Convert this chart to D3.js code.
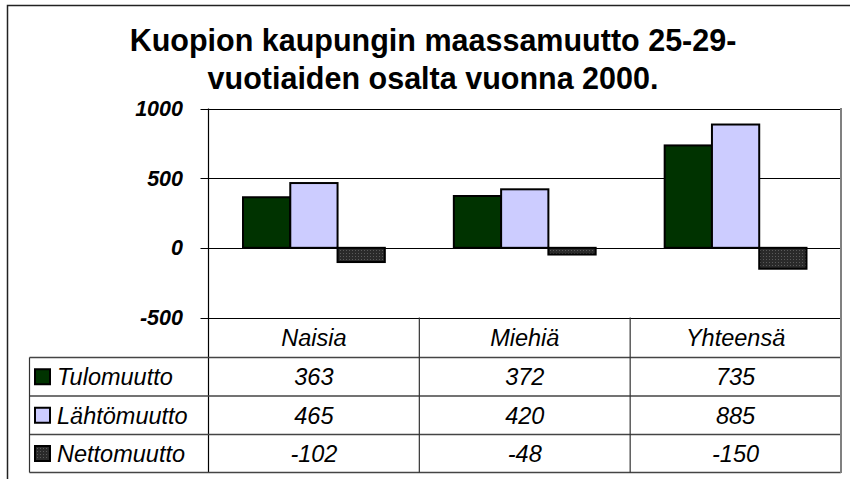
<!DOCTYPE html>
<html>
<head>
<meta charset="utf-8">
<script src="https://cdn.jsdelivr.net/npm/d3@7"></script>
<style>
  body { margin: 0; background: #fff; }
  svg text { font-family: Arial, "Liberation Sans", sans-serif; }
</style>
</head>
<body>
<div id="container"></div>
<script>
const categories = ["Naisia", "Miehiä", "Yhteensä"];
const seriesNames = ["Tulomuutto", "Lähtömuutto", "Nettomuutto"];
const tulomuutto = [363, 372, 735];
const lahtomuutto = [465, 420, 885];
const nettomuutto = [-102, -48, -150];
const yTicks = [-500, 0, 500, 1000];
const titleLines = ["Kuopion kaupungin maassamuutto 25-29-", "vuotiaiden osalta vuonna 2000."];

const WIDTH = 850, HEIGHT = 479;
const values = [tulomuutto, lahtomuutto, nettomuutto];
const colors = ["#003300", "#ccccff", "url(#netPattern)"];

// plot box
const plotLeft = 208.5, plotRight = 841, plotTop = 108.5, plotBottom = 317.5;
const rowLines = [357.5, 396, 434.5, 472.5];
const tableLeft = 29.5;

let svg = d3.select("#container")
  .append("svg")
  .attr("width", WIDTH)
  .attr("height", HEIGHT);

let defs = svg.append("defs");
let pat = defs.append("pattern")
  .attr("id", "netPattern")
  .attr("width", 3).attr("height", 3)
  .attr("patternUnits", "userSpaceOnUse");
pat.append("rect").attr("width", 3).attr("height", 3).attr("fill", "#2a2a2a");
pat.append("rect").attr("x", 1).attr("y", 1).attr("width", 1).attr("height", 1).attr("fill", "#5a5a5a");

// outer chart border
svg.append("rect")
  .attr("x", 7.5).attr("y", 5.5)
  .attr("width", 900).attr("height", 600)
  .attr("fill", "none")
  .attr("stroke", "#222")
  .attr("stroke-width", 1.5);

// title
svg.append("g").selectAll("text")
  .data(titleLines)
  .enter()
  .append("text")
  .attr("x", 433)
  .attr("y", (d, i) => 50.5 + i * 38)
  .attr("text-anchor", "middle")
  .style("font-size", "30.5px")
  .style("font-weight", "bold")
  .text(d => d);

const y = d3.scaleLinear().domain([-500, 1000]).range([plotBottom, plotTop]);
const x = d3.scaleBand().domain(categories).range([plotLeft, plotRight]).padding(0);
const xs = d3.scaleBand().domain(seriesNames).range([0, x.bandwidth()])
  .paddingInner(0).paddingOuter(0.73);

// gridlines
svg.append("g").selectAll("line")
  .data(yTicks)
  .enter()
  .append("line")
  .attr("x1", plotLeft - 8).attr("x2", plotRight)
  .attr("y1", d => Math.round(y(d)) + 0.5)
  .attr("y2", d => Math.round(y(d)) + 0.5)
  .attr("stroke", "#000")
  .attr("stroke-width", 1);

// y labels
svg.append("g").selectAll("text")
  .data(yTicks)
  .enter()
  .append("text")
  .attr("x", 183)
  .attr("y", d => y(d) + 7.5)
  .attr("text-anchor", "end")
  .style("font-size", "21.5px")
  .style("font-weight", "bold")
  .style("font-style", "italic")
  .text(d => d);

// bars
let groups = svg.append("g").selectAll("g")
  .data(seriesNames)
  .enter()
  .append("g");

groups.selectAll("rect")
  .data((s, si) => categories.map((c, ci) => ({ s: s, si: si, c: c, v: values[si][ci] })))
  .enter()
  .append("rect")
  .attr("x", d => x(d.c) + xs(d.s))
  .attr("width", xs.bandwidth())
  .attr("y", d => y(Math.max(0, d.v)))
  .attr("height", d => Math.abs(y(d.v) - y(0)))
  .attr("fill", d => colors[d.si])
  .attr("stroke", "#000")
  .attr("stroke-width", 2);

// axis line
svg.append("line")
  .attr("x1", plotLeft).attr("x2", plotLeft)
  .attr("y1", plotTop).attr("y2", rowLines[3])
  .attr("stroke", "#000").attr("stroke-width", 1.2);

// data table
let table = svg.append("g");
table.selectAll("line.row")
  .data(rowLines)
  .enter()
  .append("line")
  .attr("class", "row")
  .attr("x1", tableLeft).attr("x2", plotRight)
  .attr("y1", d => d).attr("y2", d => d)
  .attr("stroke", "#444").attr("stroke-width", 1.3);

table.selectAll("line.col")
  .data(categories.slice(1))
  .enter()
  .append("line")
  .attr("class", "col")
  .attr("x1", d => x(d)).attr("x2", d => x(d))
  .attr("y1", plotBottom).attr("y2", rowLines[3])
  .attr("stroke", "#333").attr("stroke-width", 1.2);

table.append("line")
  .attr("x1", tableLeft).attr("x2", tableLeft)
  .attr("y1", rowLines[0]).attr("y2", rowLines[3])
  .attr("stroke", "#333").attr("stroke-width", 1.2);

// right plot / table border
svg.append("line")
  .attr("x1", plotRight).attr("x2", plotRight)
  .attr("y1", plotTop - 0.5).attr("y2", rowLines[3] + 0.5)
  .attr("stroke", "#808080").attr("stroke-width", 2);

// category headers
table.selectAll("text.cat")
  .data(categories)
  .enter()
  .append("text")
  .attr("class", "cat")
  .attr("x", d => x(d) + x.bandwidth() / 2)
  .attr("y", (plotBottom + rowLines[0]) / 2 + 8.5)
  .attr("text-anchor", "middle")
  .style("font-size", "23.5px")
  .style("font-style", "italic")
  .text(d => d);

// legend keys and names
const rowMid = i => (rowLines[i] + rowLines[i + 1]) / 2;

table.selectAll("rect.key")
  .data(seriesNames)
  .enter()
  .append("rect")
  .attr("class", "key")
  .attr("x", 35).attr("y", (d, i) => rowMid(i) - 7.5)
  .attr("width", 15).attr("height", 15)
  .attr("fill", (d, i) => colors[i])
  .attr("stroke", "#000")
  .attr("stroke-width", 2);

table.selectAll("text.name")
  .data(seriesNames)
  .enter()
  .append("text")
  .attr("class", "name")
  .attr("x", 57)
  .attr("y", (d, i) => rowMid(i) + 8.5)
  .style("font-size", "23.5px")
  .style("font-style", "italic")
  .text(d => d);

// values
seriesNames.forEach((s, si) => {
  table.append("g").selectAll("text")
    .data(values[si])
    .enter()
    .append("text")
    .attr("x", (d, ci) => x(categories[ci]) + x.bandwidth() / 2)
    .attr("y", rowMid(si) + 8.5)
    .attr("text-anchor", "middle")
    .style("font-size", "23.5px")
    .style("font-style", "italic")
    .text(d => d);
});
</script>
</body>
</html>
